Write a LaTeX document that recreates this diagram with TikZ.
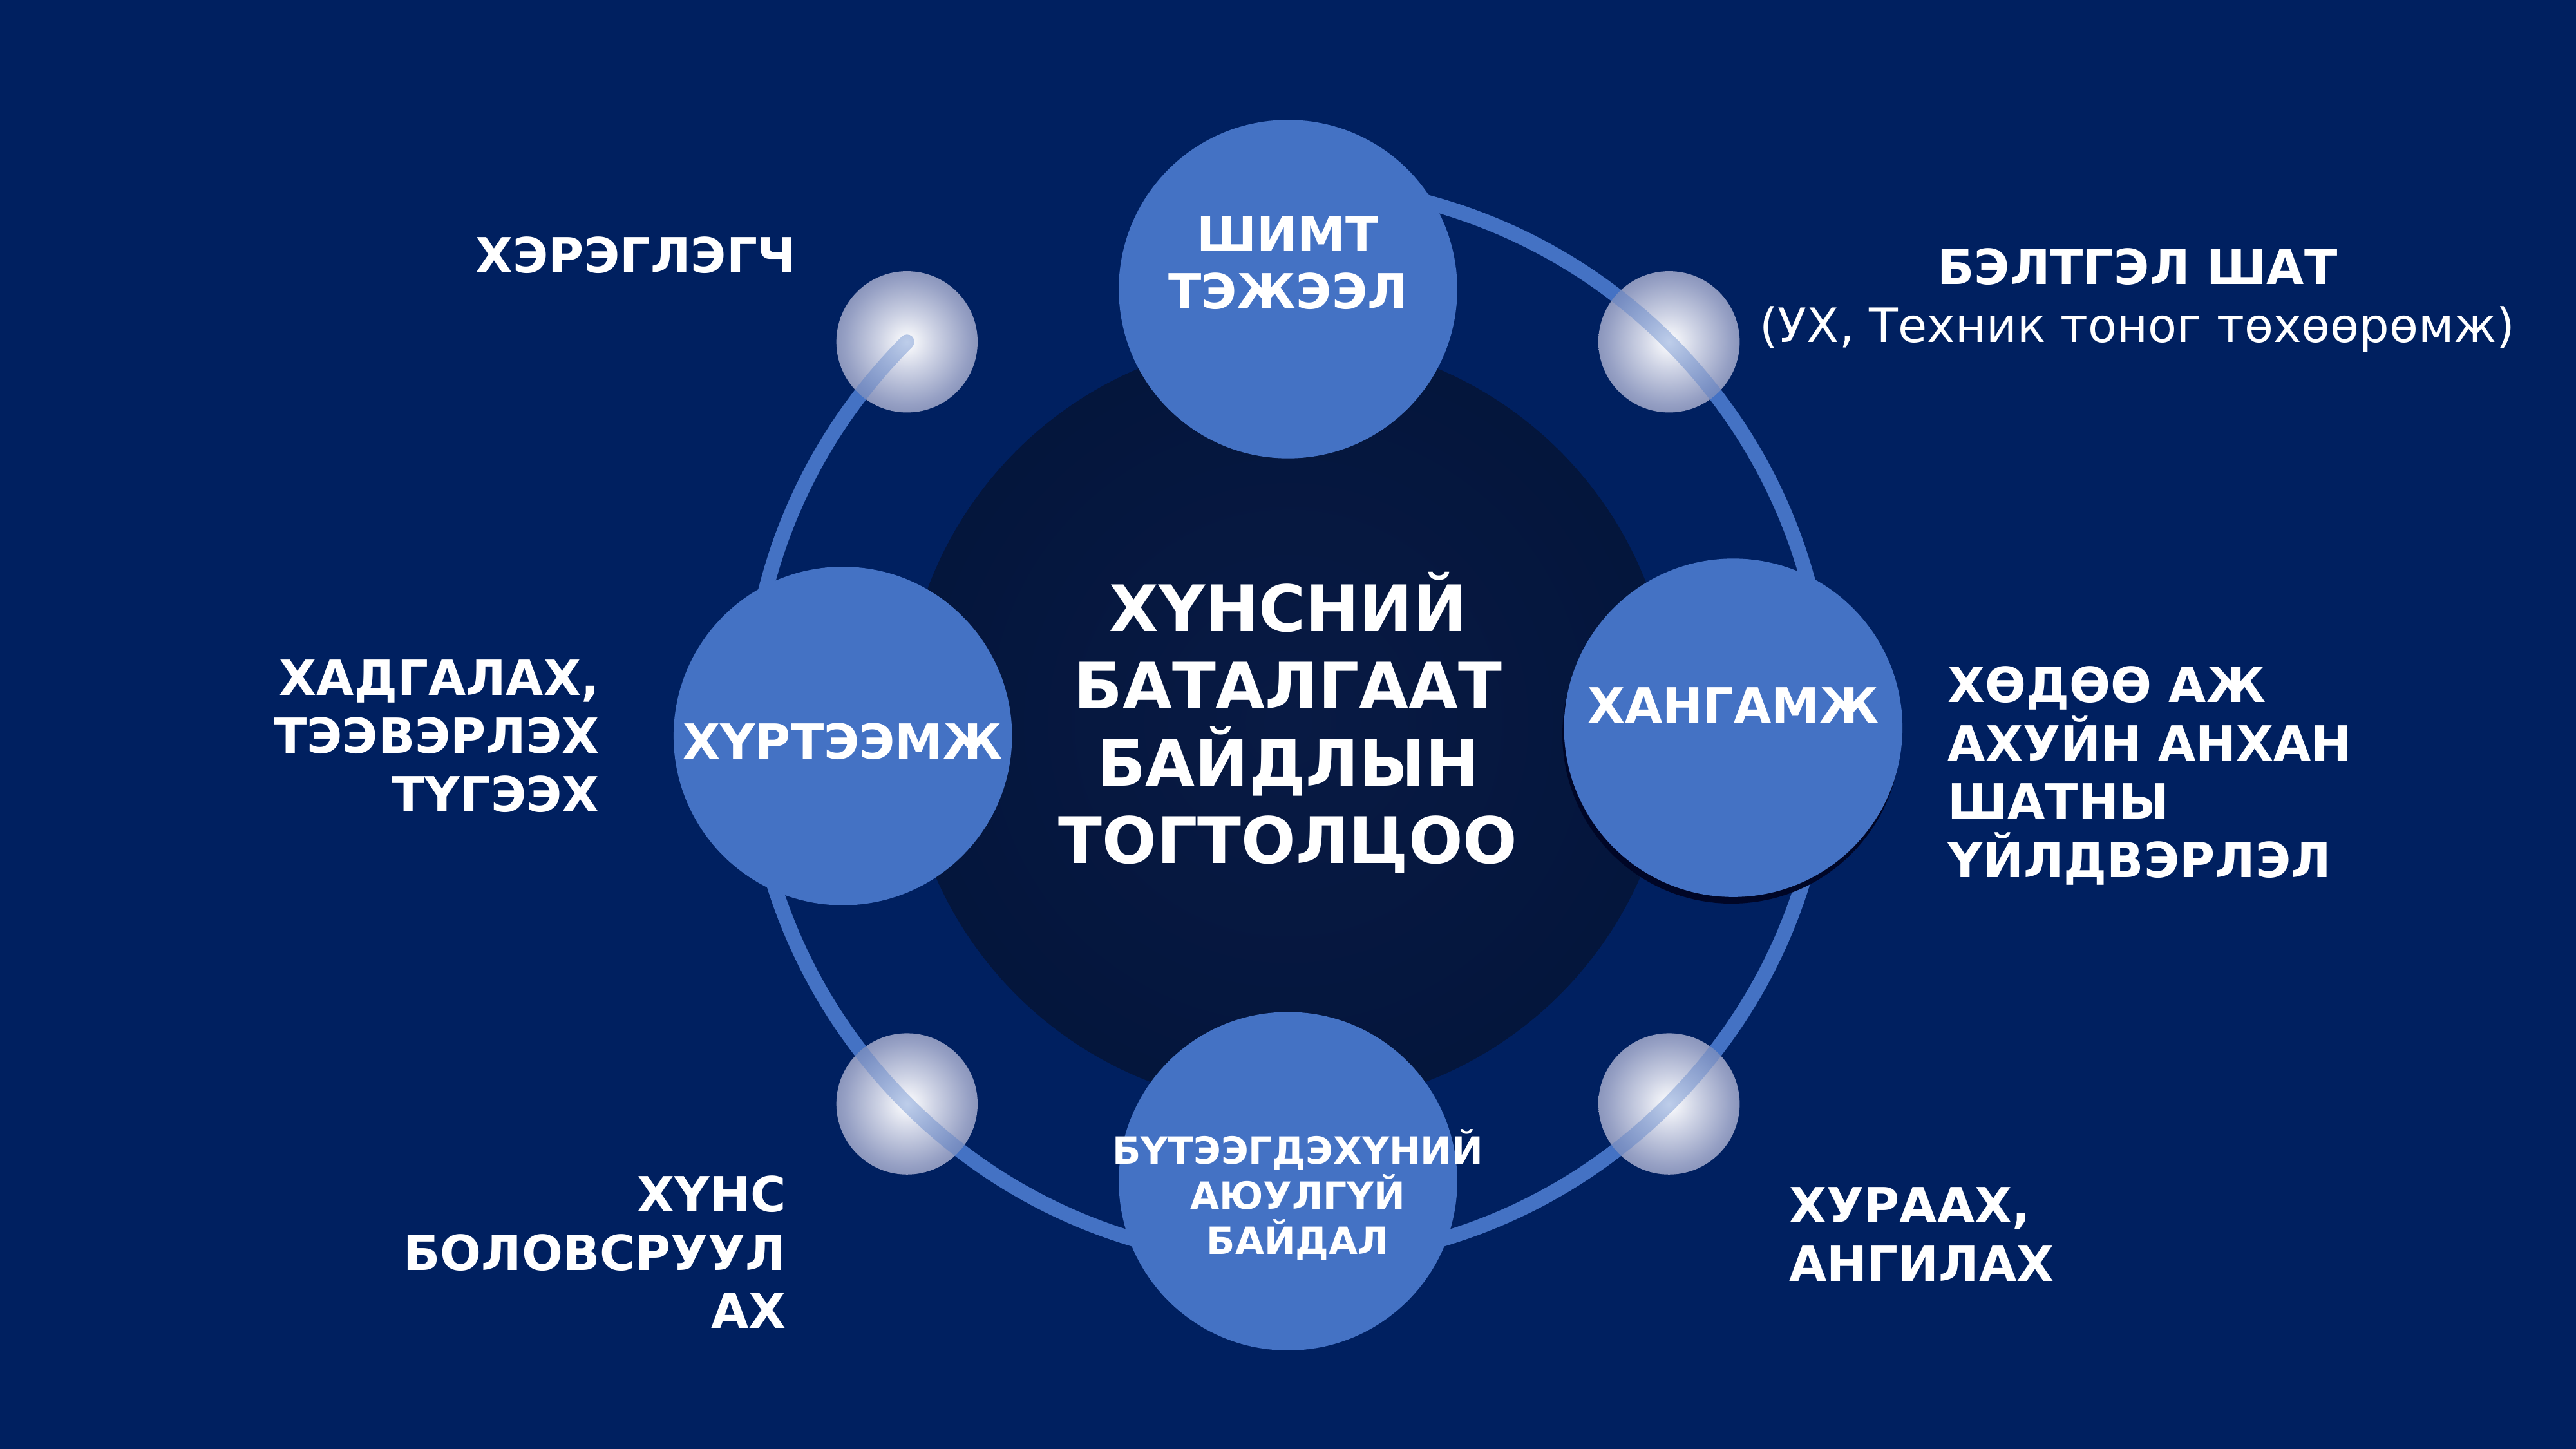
\documentclass[tikz,border=0pt]{standalone}
\usepackage{fontspec}
\setmainfont{DejaVu Sans}
\usetikzlibrary{shadows}

\definecolor{slidebg}{RGB}{0,32,96}
\definecolor{discblue}{RGB}{68,114,196}
\definecolor{hubinner}{RGB}{8,26,68}
\definecolor{hubouter}{RGB}{0,17,52}
\definecolor{glowhigh}{RGB}{205,210,228}
\definecolor{glowmid}{RGB}{150,160,196}
\definecolor{glowrim}{RGB}{92,106,154}
\definecolor{shadowblue}{RGB}{0,6,38}

\pgfdeclareradialshading{hubshade}{\pgfpointorigin}{color(0bp)=(hubinner); color(50bp)=(hubouter)}
\pgfdeclareradialshading{glowshade}{\pgfpointorigin}{color(0bp)=(white); color(10bp)=(glowhigh); color(22bp)=(glowmid); color(38bp)=(glowrim); color(50bp)=(glowrim)}

\begin{document}
\begin{tikzpicture}[
    x=1pt, y=1pt,
    hub/.style = {
        circle,
        shade,
        shading=hubshade,
        minimum size=468pt,
        inner sep=0pt,
        text=white,
        align=center,
        font=\bfseries\fontsize{39}{47}\selectfont
    },
    disc/.style = {
        circle,
        fill=discblue,
        minimum size=206pt,
        inner sep=0pt
    },
    glowball/.style = {
        circle,
        shade,
        shading=glowshade,
        minimum size=86pt,
        inner sep=0pt
    },
    ring/.style = {draw=discblue, line width=9pt, line cap=round},
    disctext/.style = {
        text=white,
        align=center,
        inner sep=0pt,
        font=\bfseries\fontsize{29.5}{35}\selectfont
    },
    sidetext/.style = {
        text=white,
        inner sep=0pt,
        font=\bfseries\fontsize{29.5}{35.5}\selectfont
    }
]

%% ── Fondo ───────────────────────────────────────────────────────────────────

\fill[slidebg] (0,0) rectangle (1568,882);
\useasboundingbox (0,0) rectangle (1568,882);

%% ── Centro ──────────────────────────────────────────────────────────────────

\node[hub] (hub) at (784,442) {ХҮНСНИЙ\\БАТАЛГААТ\\БАЙДЛЫН\\ТОГТОЛЦОО};

%% ── Anillo ──────────────────────────────────────────────────────────────────

\draw[ring] ([shift={(135:328)}]hub.center) arc[start angle=135, end angle=450, radius=328];

%% ── Discos ──────────────────────────────────────────────────────────────────

\node[disc] (nutrition) at (784,706) {};
\node[disc] (access)    at (513,434) {};
\node[disc, drop shadow={shadow xshift=-1pt, shadow yshift=-4pt, fill=shadowblue, opacity=1}]
    (supply) at (1055,439) {};
\node[disc] (safety)    at (784,163) {};

%% ── Puntos de luz ───────────────────────────────────────────────────────────

\foreach \ang/\name in {135/glowNW, 45/glowNE, 225/glowSW, 315/glowSE} {
    \node[glowball] (\name) at ([shift={(\ang:328)}]hub.center) {};
    \begin{scope}
        \clip (\name.center) circle (43);
        \draw[ring, opacity=.35] ([shift={(135:328)}]hub.center)
            arc[start angle=135, end angle=450, radius=328];
    \end{scope}
}

%% ── Textos de los discos ────────────────────────────────────────────────────

\node[disctext, anchor=base] (nutritiontxt) at (784,694) {ШИМТ\\ТЭЖЭЭЛ};
\node[disctext, anchor=base] (accesstxt)    at (513,420) {ХҮРТЭЭМЖ};
\node[disctext, anchor=base] (supplytxt)    at (1055,442) {ХАНГАМЖ};
\node[disctext, anchor=base, font=\bfseries\fontsize{22.8}{27.5}\selectfont]
    (safetytxt) at (790,118.6) {БҮТЭЭГДЭХҮНИЙ\\АЮУЛГҮЙ\\БАЙДАЛ};

%% ── Etiquetas ───────────────────────────────────────────────────────────────

\node[sidetext, anchor=base east] (consumer) at (485,716) {ХЭРЭГЛЭГЧ};
\node[sidetext, align=center, anchor=base] (prep) at (1301,673.5)
    {БЭЛТГЭЛ ШАТ\\{\mdseries\fontsize{28.8}{35.5}\selectfont (УХ, Техник тоног төхөөрөмж)}};
\node[sidetext, align=right, anchor=base east] (storage) at (365,388)
    {ХАДГАЛАХ,\\ТЭЭВЭРЛЭХ\\ТҮГЭЭХ};
\node[sidetext, align=left, anchor=base west] (farming) at (1185.5,348)
    {ХӨДӨӨ АЖ\\АХУЙН АНХАН\\ШАТНЫ\\ҮЙЛДВЭРЛЭЛ};
\node[sidetext, align=right, anchor=base east] (processing) at (478.6,73.4)
    {ХҮНС\\БОЛОВСРУУЛ\\АХ};
\node[sidetext, align=left, anchor=base west] (harvest) at (1089,102.2)
    {ХУРААХ,\\АНГИЛАХ};

\end{tikzpicture}
\end{document}
